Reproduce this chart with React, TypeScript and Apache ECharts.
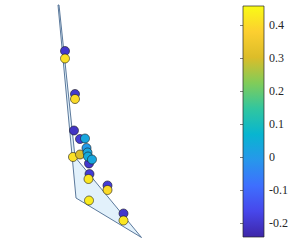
import React, { useEffect, useRef } from "react";
import * as echarts from "echarts";

// Projected positions of the 3-D points (view units) and their colour values
const pointX = [65, 75, 74, 80, 89, 89.5, 107.5, 123.5, 65, 75, 73, 88.5, 107.5, 89, 123.5, 80, 85, 86.5, 87.5, 88, 92];
const pointY = [51, 94, 130.5, 139, 163.5, 174, 185.5, 213.5, 58.5, 99, 157, 179, 190, 200.5, 220.5, 154.5, 138.5, 148, 152.5, 156.5, 159.5];
const pointV = [-0.2, -0.2, -0.21, -0.19, -0.2, -0.19, -0.19, -0.2, 0.41, 0.4, 0.41, 0.42, 0.4, 0.43, 0.42, 0.3, 0.03, 0.0, 0.03, 0.04, 0.03];

// Fitted plane outline (projected)
const planeX = [58, 76, 141.5, 75, 59];
const planeY = [5, 198, 237.5, 157, 5];

// Colour bar
const cbMin = -0.242;
const cbMax = 0.458;
const cbTicks = [-0.2, -0.1, 0, 0.1, 0.2, 0.3, 0.4];
const parula = ["#3e26a8", "#4747eb", "#3e6ffe", "#2797eb", "#08b5d0", "#31c69f", "#81cc59", "#dcbd29", "#fccf30", "#f9fb15"];

export default function App() {
  const ref = useRef<HTMLDivElement>(null);
  useEffect(() => {
    if (!ref.current) return;
    const chart = echarts.init(ref.current, null, { renderer: "svg" });
    chart.setOption({
      animation: false,
      backgroundColor: "#ffffff",
      grid: [
        { left: 0, top: 0, width: 300, height: 250 },
        { left: 243, top: 6, width: 21, height: 231 },
      ],
      xAxis: [
        { type: "value", gridIndex: 0, min: 0, max: 300, show: false },
        { type: "value", gridIndex: 1, min: 0, max: 1, show: false },
      ],
      yAxis: [
        { type: "value", gridIndex: 0, min: 0, max: 250, inverse: true, show: false },
        {
          type: "value",
          gridIndex: 1,
          min: cbMin,
          max: cbMax,
          position: "right",
          splitLine: { show: false },
          axisLine: { show: false },
          axisTick: { show: true, inside: true, length: 3, customValues: cbTicks, lineStyle: { color: "#262626", width: 0.6 } },
          axisLabel: {
            show: true,
            customValues: cbTicks,
            margin: 5,
            color: "#262626",
            fontFamily: "Liberation Serif",
            fontSize: 12,
            formatter: (v: number) => String(Math.round(v * 10) / 10),
          },
        },
      ],
      visualMap: {
        show: false,
        type: "continuous",
        min: cbMin,
        max: cbMax,
        dimension: 2,
        seriesIndex: 1,
        inRange: { color: parula },
      },
      series: [
        {
          type: "custom",
          xAxisIndex: 0,
          yAxisIndex: 0,
          data: [0],
          silent: true,
          z: 1,
          renderItem: (params: any, api: any) => {
            const pts = planeX.map((x, i) => api.coord([x, planeY[i]]));
            return {
              type: "polygon",
              shape: { points: pts },
              style: { fill: "#e2f1fb", stroke: "#4a6a90", lineWidth: 0.9 },
            };
          },
        },
        {
          type: "scatter",
          xAxisIndex: 0,
          yAxisIndex: 0,
          z: 2,
          symbol: "circle",
          symbolSize: 9,
          itemStyle: { borderColor: "#1a1a1a", borderWidth: 0.6, opacity: 1 },
          data: pointX.map((x, i) => [x, pointY[i], pointV[i]]),
        },
        {
          type: "custom",
          xAxisIndex: 1,
          yAxisIndex: 1,
          data: [0],
          silent: true,
          z: 1,
          renderItem: (params: any, api: any) => {
            const tl = api.coord([0, cbMax]);
            const br = api.coord([1, cbMin]);
            return {
              type: "rect",
              shape: { x: tl[0], y: tl[1], width: br[0] - tl[0], height: br[1] - tl[1] },
              style: {
                fill: new echarts.graphic.LinearGradient(0, 0, 0, 1, parula.slice().reverse().map((c, i) => ({ offset: i / (parula.length - 1), color: c }))),
                stroke: "#262626",
                lineWidth: 0.7,
              },
            };
          },
        },
      ],
    });
    return () => chart.dispose();
  }, []);
  return <div ref={ref} style={{ position: "fixed", left: 0, top: 0, width: 300, height: 250 }} />;
}
